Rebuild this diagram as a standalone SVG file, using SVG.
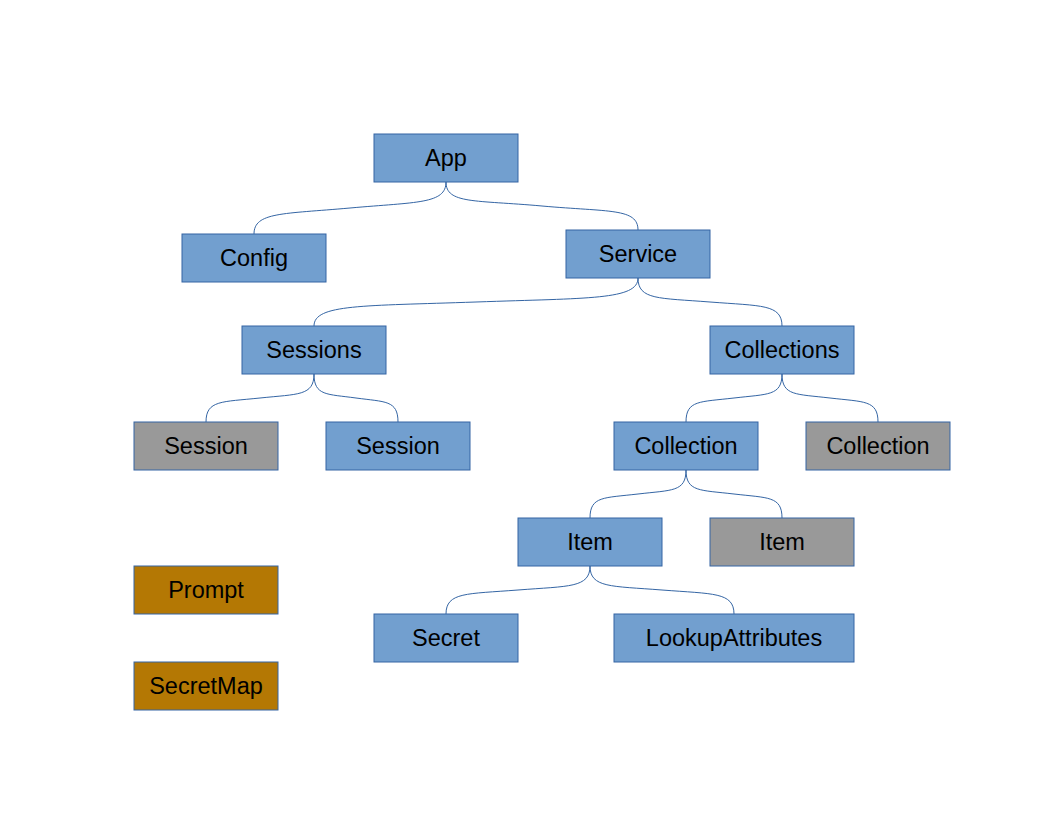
<svg xmlns="http://www.w3.org/2000/svg" width="1056" height="816" viewBox="0 0 1056 816">
<style>
.n rect{stroke:#3465a4;stroke-width:1}
.b rect{fill:#729fcf}
.g rect{fill:#999999}
.o rect{fill:#b47804}
.n text{font-family:"Liberation Sans",Arial,sans-serif;font-size:23.5px;fill:#000;text-anchor:middle}
.c path{fill:none;stroke:#3465a4;stroke-width:1}
</style>
<rect width="1056" height="816" fill="#fff"/>
<g class="c" id="connectors">
<path d="M446,182 C446,204 417,202 350,208 S254,212 254,234"/>
<path d="M446,182 C446,204 475,200 542,206 S638,208 638,230"/>
<path d="M638,278 C638,300 589,298 476,302 S314,304 314,326"/>
<path d="M638,278 C638,300 659,298 710,302 S782,304 782,326"/>
<path d="M314,374 C314,396 298,394 260,398 S206,400 206,422"/>
<path d="M314,374 C314,396 327,394 356,398 S398,400 398,422"/>
<path d="M782,374 C782,396 768,394 734,398 S686,400 686,422"/>
<path d="M782,374 C782,396 796,394 830,398 S878,400 878,422"/>
<path d="M686,470 C686,492 672,490 638,494 S590,496 590,518"/>
<path d="M686,470 C686,492 700,490 734,494 S782,496 782,518"/>
<path d="M590,566 C590,588 569,586 518,590 S446,592 446,614"/>
<path d="M590,566 C590,588 611,586 662,590 S734,592 734,614"/>
</g>
<g id="app" class="n b"><rect x="374" y="134" width="144" height="48"/><text x="446" y="166">App</text></g>
<g id="config" class="n b"><rect x="182" y="234" width="144" height="48"/><text x="254" y="266">Config</text></g>
<g id="service" class="n b"><rect x="566" y="230" width="144" height="48"/><text x="638" y="262">Service</text></g>
<g id="sessions" class="n b"><rect x="242" y="326" width="144" height="48"/><text x="314" y="358">Sessions</text></g>
<g id="collections" class="n b"><rect x="710" y="326" width="144" height="48"/><text x="782" y="358">Collections</text></g>
<g id="session1" class="n g"><rect x="134" y="422" width="144" height="48"/><text x="206" y="454">Session</text></g>
<g id="session2" class="n b"><rect x="326" y="422" width="144" height="48"/><text x="398" y="454">Session</text></g>
<g id="collection1" class="n b"><rect x="614" y="422" width="144" height="48"/><text x="686" y="454">Collection</text></g>
<g id="collection2" class="n g"><rect x="806" y="422" width="144" height="48"/><text x="878" y="454">Collection</text></g>
<g id="item1" class="n b"><rect x="518" y="518" width="144" height="48"/><text x="590" y="550">Item</text></g>
<g id="item2" class="n g"><rect x="710" y="518" width="144" height="48"/><text x="782" y="550">Item</text></g>
<g id="prompt" class="n o"><rect x="134" y="566" width="144" height="48"/><text x="206" y="598">Prompt</text></g>
<g id="secret" class="n b"><rect x="374" y="614" width="144" height="48"/><text x="446" y="646">Secret</text></g>
<g id="lookup" class="n b"><rect x="614" y="614" width="240" height="48"/><text x="734" y="646">LookupAttributes</text></g>
<g id="secretmap" class="n o"><rect x="134" y="662" width="144" height="48"/><text x="206" y="694">SecretMap</text></g>
</svg>
